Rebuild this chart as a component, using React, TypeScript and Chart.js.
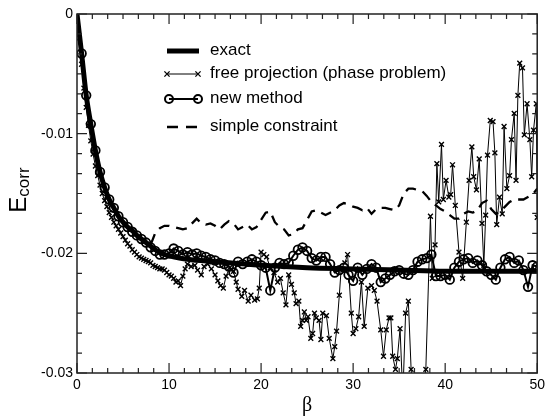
import React, { useEffect, useRef } from "react";
import { Chart, registerables } from "chart.js";

Chart.register(...registerables);

// ---- axes ----
const X_MIN = 0;
const X_MAX = 50;
const Y_MIN = -0.03;
const Y_MAX = 0;
const X_TICK_LABELS = ["0", "10", "20", "30", "40", "50"];
const Y_TICK_LABELS = ["0", "-0.01", "-0.02", "-0.03"];

// ---- common beta grid (0 .. 50, step 0.5) for "new method" and "simple constraint" ----
const BETA_GRID = Array.from({ length: 101 }, (_, i) => i * 0.5);

// ---- exact ----
const EXACT_BETA = [0, 0.5, 1, 1.5, 2, 2.5, 3, 3.5, 4, 4.5, 5, 5.5, 6, 6.5, 7, 7.5, 8, 8.5, 9, 9.5, 10, 12, 15, 20, 25, 30, 35, 40, 45, 50];
const EXACT_E = [0, -0.0033, -0.0068, -0.0092, -0.0114, -0.0132, -0.0145, -0.0155, -0.0162, -0.0169, -0.0174, -0.0178, -0.0181, -0.0185, -0.0188, -0.0191, -0.0194, -0.0197, -0.0199, -0.0201, -0.0202, -0.0205, -0.0207, -0.021, -0.0212, -0.0213, -0.0214, -0.0215, -0.0215, -0.0215];

// ---- new method ----
const NEW_METHOD_E = [
  0, -0.0033, -0.0068, -0.0092, -0.0114, -0.0132, -0.0145, -0.0155, -0.0162, -0.0169,
  -0.0174, -0.0178, -0.0182, -0.0185, -0.0188, -0.0191, -0.0195, -0.0198, -0.0201, -0.0201,
  -0.02, -0.0196, -0.0198, -0.0201, -0.0199, -0.0201, -0.02, -0.0202, -0.0203, -0.0205,
  -0.0206, -0.0208, -0.0209, -0.0211, -0.0216, -0.0207, -0.0209, -0.0207, -0.0205, -0.0207,
  -0.021, -0.0212, -0.0231, -0.0212, -0.0208, -0.0209, -0.0208, -0.0202, -0.0197, -0.0195,
  -0.0198, -0.0204, -0.0206, -0.0203, -0.0203, -0.0209, -0.0216, -0.0214, -0.0212, -0.0218,
  -0.0223, -0.0212, -0.0218, -0.0213, -0.0209, -0.0212, -0.0224, -0.0221, -0.0218, -0.0215,
  -0.0214, -0.0217, -0.0218, -0.0214, -0.0207, -0.0205, -0.0204, -0.0201, -0.0219, -0.0219,
  -0.0218, -0.0222, -0.0212, -0.0207, -0.0205, -0.0204, -0.0208, -0.0206, -0.021, -0.0215,
  -0.0218, -0.0222, -0.0212, -0.0205, -0.0203, -0.0208, -0.0206, -0.0214, -0.0228, -0.021,
  -0.0211,
];

// ---- simple constraint ----
const SIMPLE_E = [
  0, -0.0033, -0.0068, -0.0092, -0.0114, -0.0132, -0.0145, -0.0155, -0.0162, -0.0169,
  -0.0174, -0.0178, -0.0181, -0.0185, -0.0188, -0.0191, -0.0193, -0.0183, -0.0179, -0.0177,
  -0.0177, -0.0178, -0.0179, -0.018, -0.0179, -0.0175, -0.0171, -0.0175, -0.0176, -0.0175,
  -0.0177, -0.018, -0.0176, -0.0173, -0.0175, -0.018, -0.0178, -0.0176, -0.018, -0.0178,
  -0.0172, -0.0166, -0.0165, -0.0174, -0.0178, -0.018, -0.0185, -0.0184, -0.018, -0.0179,
  -0.0172, -0.0165, -0.0164, -0.0166, -0.0168, -0.0166, -0.0164, -0.016, -0.0158, -0.0159,
  -0.0161, -0.0162, -0.0164, -0.0162, -0.0167, -0.0163, -0.0162, -0.0162, -0.0163, -0.0164,
  -0.016, -0.015, -0.0146, -0.0146, -0.0147, -0.0148, -0.0152, -0.0157, -0.016, -0.0163,
  -0.0165, -0.0168, -0.0171, -0.0171, -0.0167, -0.0165, -0.0166, -0.0164, -0.0158, -0.0156,
  -0.0163, -0.0167, -0.0165, -0.0161, -0.0157, -0.0155, -0.0155, -0.0155, -0.0153, -0.0151,
  -0.0146,
];

// ---- free projection (phase problem) ----
const FREE_BETA = [
  0, 0.25, 0.5, 0.75, 1, 1.25, 1.5, 1.75, 2, 2.25, 2.5, 2.75, 3, 3.25, 3.5, 3.75, 4, 4.25, 4.5, 4.75,
  5, 5.25, 5.5, 5.75, 6, 6.25, 6.5, 6.75, 7, 7.25, 7.5, 7.75, 8, 8.25, 8.5, 8.75, 9, 9.25, 9.5, 9.75,
  10, 10.25, 10.5, 10.75, 11, 11.25, 11.5, 11.75, 12, 12.4, 12.8, 13.1, 13.5, 13.8, 14.2, 14.6,
  15.0, 15.3, 15.6, 15.9, 16.2, 16.6, 17.0, 17.3, 17.5, 17.9, 18.2, 18.6, 18.9, 19.3, 19.6, 19.8,
  20.0, 20.3, 20.6, 21.0, 21.4, 21.8, 22.1, 22.4, 22.7, 23.0, 23.3, 23.6, 23.8, 24.1, 24.3, 24.5,
  24.7, 24.9, 25.1, 25.4, 25.6, 25.8, 26.0, 26.3, 26.5, 26.7, 27.1, 27.4, 27.8, 28.0, 28.2, 28.5,
  28.7, 29.1, 29.4, 29.8, 30.0, 30.3, 30.6, 30.9, 31.2, 31.6, 32.0, 32.3, 32.6, 33.0, 33.3, 33.6,
  33.9, 34.1, 34.3, 34.6, 34.8, 35.1, 35.4, 35.7, 36.0, 36.3, 36.7, 37.1, 37.5, 37.9, 38.4, 38.6,
  38.9, 39.1, 39.3, 39.6, 39.8, 40.1, 40.4, 40.6, 40.8, 41.1, 41.5, 41.9, 42.3, 42.6, 42.9, 43.1,
  43.4, 43.7, 44.0, 44.2, 44.4, 44.6, 44.9, 45.2, 45.4, 45.6, 45.9, 46.2, 46.4, 46.7, 47.0, 47.2,
  47.5, 47.7, 47.9, 48.1, 48.4, 48.6, 48.9, 49.2, 49.4, 49.6, 49.9, 50.0,
];
const FREE_E = [
  0, -0.002, -0.0042, -0.0062, -0.0078, -0.0093, -0.0106, -0.0117, -0.0127, -0.0135, -0.0143, -0.015, -0.0156, -0.0161, -0.0166, -0.017, -0.0174, -0.0177, -0.018, -0.0183,
  -0.0186, -0.0189, -0.0192, -0.0194, -0.0197, -0.0199, -0.0201, -0.0203, -0.0204, -0.0205, -0.0206, -0.0207, -0.0208, -0.021, -0.0211, -0.0212, -0.0213, -0.0213, -0.0214, -0.0216,
  -0.0218, -0.0219, -0.0221, -0.0224, -0.0223, -0.0227, -0.0219, -0.0213, -0.0209, -0.0211, -0.021, -0.0214, -0.0218, -0.0211, -0.0209, -0.0213,
  -0.0218, -0.0223, -0.0227, -0.0229, -0.0219, -0.0212, -0.0215, -0.0224, -0.023, -0.0236, -0.0231, -0.024, -0.0235, -0.0239, -0.0238, -0.0229,
  -0.0199, -0.0201, -0.0203, -0.0212, -0.0216, -0.0224, -0.0221, -0.0233, -0.0243, -0.0218, -0.0226, -0.0233, -0.0242, -0.024, -0.0261, -0.0256,
  -0.0249, -0.0256, -0.0253, -0.0271, -0.0267, -0.025, -0.0254, -0.0256, -0.0272, -0.025, -0.0252, -0.0271, -0.0288, -0.0278, -0.0265, -0.0235,
  -0.0213, -0.0208, -0.0201, -0.025, -0.0267, -0.0263, -0.0253, -0.0224, -0.0261, -0.0229, -0.0227, -0.0231, -0.024, -0.0264, -0.0286, -0.0264,
  -0.0254, -0.0254, -0.0286, -0.0297, -0.0288, -0.0263, -0.032, -0.025, -0.024, -0.0297, -0.033, -0.034, -0.032, -0.0297, -0.0169, -0.0221,
  -0.0193, -0.0125, -0.0157, -0.0109, -0.0155, -0.0139, -0.0153, -0.0151, -0.0126, -0.016, -0.0199, -0.0221, -0.0174, -0.0139, -0.0111, -0.0136,
  -0.0147, -0.0121, -0.0175, -0.021, -0.0168, -0.0118, -0.0089, -0.009, -0.0116, -0.0176, -0.0153, -0.0167, -0.0094, -0.0146, -0.0135, -0.0105,
  -0.0083, -0.0139, -0.0068, -0.0041, -0.0045, -0.0101, -0.0075, -0.0105, -0.0136, -0.0097, -0.0075, -0.017,
];

const LEGEND_LABELS = ["exact", "free projection (phase problem)", "new method", "simple constraint"];

const SANS = "'Liberation Sans', Arial, Helvetica, sans-serif";
const SERIF = "'Liberation Serif', 'Times New Roman', serif";
const INK = "#000";

function pts(xs: number[], ys: number[]) {
  return xs.map((x, i) => ({ x, y: ys[i] }));
}

function drawCross(ctx: CanvasRenderingContext2D, x: number, y: number, r: number) {
  ctx.beginPath();
  ctx.moveTo(x - r, y - r);
  ctx.lineTo(x + r, y + r);
  ctx.moveTo(x + r, y - r);
  ctx.lineTo(x - r, y + r);
  ctx.stroke();
}

const decorPlugin = {
  id: "decor",
  afterDraw(chart: any) {
    const { ctx, chartArea } = chart;
    const xs = chart.scales.x;
    const ys = chart.scales.y;
    const { left, right, top, bottom } = chartArea;
    ctx.save();

    // frame
    ctx.strokeStyle = "#222";
    ctx.lineWidth = 1.5;
    ctx.strokeRect(left, top, right - left, bottom - top);

    // inward ticks
    ctx.lineWidth = 1.2;
    ctx.beginPath();
    for (let i = 0; i <= 30; i++) {
      const v = (i * 10) / 6;
      const px = xs.getPixelForValue(v);
      const len = i % 6 === 0 ? 10 : 5;
      ctx.moveTo(px, bottom);
      ctx.lineTo(px, bottom - len);
      ctx.moveTo(px, top);
      ctx.lineTo(px, top + len);
    }
    for (let i = 0; i <= 18; i++) {
      const v = -(i * 0.01) / 6;
      const py = ys.getPixelForValue(v);
      const len = i % 6 === 0 ? 10 : 5;
      ctx.moveTo(left, py);
      ctx.lineTo(left + len, py);
      ctx.moveTo(right, py);
      ctx.lineTo(right - len, py);
    }
    ctx.stroke();

    // legend
    ctx.strokeStyle = INK;
    ctx.fillStyle = INK;
    const lx0 = 167;
    const lx1 = 198;
    const tx = 210;
    const rows = [51, 74, 99, 127];
    // exact
    ctx.lineWidth = 5;
    ctx.setLineDash([]);
    ctx.beginPath();
    ctx.moveTo(lx0, rows[0]);
    ctx.lineTo(lx1 + 1, rows[0]);
    ctx.stroke();
    // free projection
    ctx.lineWidth = 1;
    ctx.beginPath();
    ctx.moveTo(lx0, rows[1]);
    ctx.lineTo(lx1, rows[1]);
    ctx.stroke();
    ctx.lineWidth = 1.3;
    drawCross(ctx, lx0, rows[1], 2.6);
    drawCross(ctx, lx1, rows[1], 2.6);
    // new method
    ctx.lineWidth = 2;
    ctx.beginPath();
    ctx.moveTo(lx0 + 2, rows[2]);
    ctx.lineTo(lx1, rows[2]);
    ctx.stroke();
    ctx.beginPath();
    ctx.arc(lx0 + 2, rows[2], 4, 0, Math.PI * 2);
    ctx.stroke();
    ctx.beginPath();
    ctx.arc(lx1, rows[2], 4, 0, Math.PI * 2);
    ctx.stroke();
    // simple constraint
    ctx.lineWidth = 2.5;
    ctx.setLineDash([11, 8]);
    ctx.beginPath();
    ctx.moveTo(lx0, rows[3]);
    ctx.lineTo(lx1, rows[3]);
    ctx.stroke();
    ctx.setLineDash([]);

    ctx.font = `17px ${SANS}`;
    ctx.textAlign = "left";
    ctx.textBaseline = "middle";
    LEGEND_LABELS.forEach((t, i) => ctx.fillText(t, tx, rows[i] - 1));

    // x title
    ctx.font = `20px ${SERIF}`;
    ctx.textAlign = "center";
    ctx.textBaseline = "alphabetic";
    ctx.fillText("β", (left + right) / 2, 411);

    // y title: E_corr rotated
    ctx.translate(26, 190);
    ctx.rotate(-Math.PI / 2);
    ctx.font = `24px ${SANS}`;
    const eW = ctx.measureText("E").width;
    ctx.font = `17px ${SANS}`;
    const cW = ctx.measureText("corr").width;
    const total = eW + cW;
    ctx.textAlign = "left";
    ctx.font = `24px ${SANS}`;
    ctx.fillText("E", -total / 2, 0);
    ctx.font = `17px ${SANS}`;
    ctx.fillText("corr", -total / 2 + eW, 3);

    ctx.restore();
  },
};

export default function App() {
  const ref = useRef<HTMLCanvasElement>(null);

  useEffect(() => {
    const canvas = ref.current;
    if (!canvas) return;
    const hideFirst = (c: any, r: number) => (c.dataIndex === 0 ? 0 : r);
    const chart = new Chart(canvas, {
      type: "line",
      data: {
        datasets: [
          {
            label: LEGEND_LABELS[2],
            data: pts(BETA_GRID, NEW_METHOD_E),
            borderColor: INK,
            borderWidth: 2,
            backgroundColor: "rgba(0,0,0,0)",
            pointStyle: "circle",
            pointRadius: (c: any) => hideFirst(c, 4.3),
            pointBorderWidth: 1.8,
            pointBorderColor: INK,
            pointBackgroundColor: "rgba(0,0,0,0)",
            tension: 0,
            order: 0,
          },
          {
            label: LEGEND_LABELS[0],
            data: pts(EXACT_BETA, EXACT_E),
            borderColor: INK,
            borderWidth: 5,
            pointRadius: 0,
            cubicInterpolationMode: "monotone",
            order: 1,
          },
          {
            label: LEGEND_LABELS[3],
            data: pts(BETA_GRID, SIMPLE_E),
            borderColor: INK,
            borderWidth: 2.3,
            borderDash: [11, 7],
            pointRadius: 0,
            tension: 0,
            order: 2,
          },
          {
            label: LEGEND_LABELS[1],
            data: pts(FREE_BETA, FREE_E),
            borderColor: INK,
            borderWidth: 1,
            pointStyle: "crossRot",
            pointRadius: (c: any) => hideFirst(c, 3.4),
            pointBorderWidth: 1.4,
            pointBorderColor: INK,
            tension: 0,
            order: 3,
          },
        ] as any,
      },
      options: {
        responsive: false,
        animation: false,
        devicePixelRatio: 1,
        layout: { padding: { left: 0, top: 14, right: 11, bottom: 0 } },
        plugins: { legend: { display: false }, tooltip: { enabled: false } },
        scales: {
          x: {
            type: "linear",
            min: X_MIN,
            max: X_MAX,
            grid: { display: false, drawTicks: false },
            border: { display: false },
            ticks: {
              stepSize: 10,
              padding: 4,
              maxRotation: 0,
              color: INK,
              font: { family: SANS, size: 14 },
              callback: (v: any) => X_TICK_LABELS[Math.round(Number(v) / 10)] ?? "",
            },
            afterFit: (s: any) => {
              s.height = 44;
            },
          },
          y: {
            type: "linear",
            min: Y_MIN,
            max: Y_MAX,
            grid: { display: false, drawTicks: false },
            border: { display: false },
            ticks: {
              stepSize: 0.01,
              padding: 4,
              color: INK,
              font: { family: SANS, size: 14 },
              callback: (v: any) => Y_TICK_LABELS[Math.round(-Number(v) / 0.01)] ?? "",
            },
            afterFit: (s: any) => {
              s.width = 77;
            },
          },
        },
      } as any,
      plugins: [decorPlugin],
    });
    return () => chart.destroy();
  }, []);

  return (
    <div style={{ position: "absolute", left: 0, top: 0, width: 549, height: 417, background: "#fff" }}>
      <canvas ref={ref} width={549} height={417} style={{ width: 549, height: 417, display: "block" }} />
    </div>
  );
}
